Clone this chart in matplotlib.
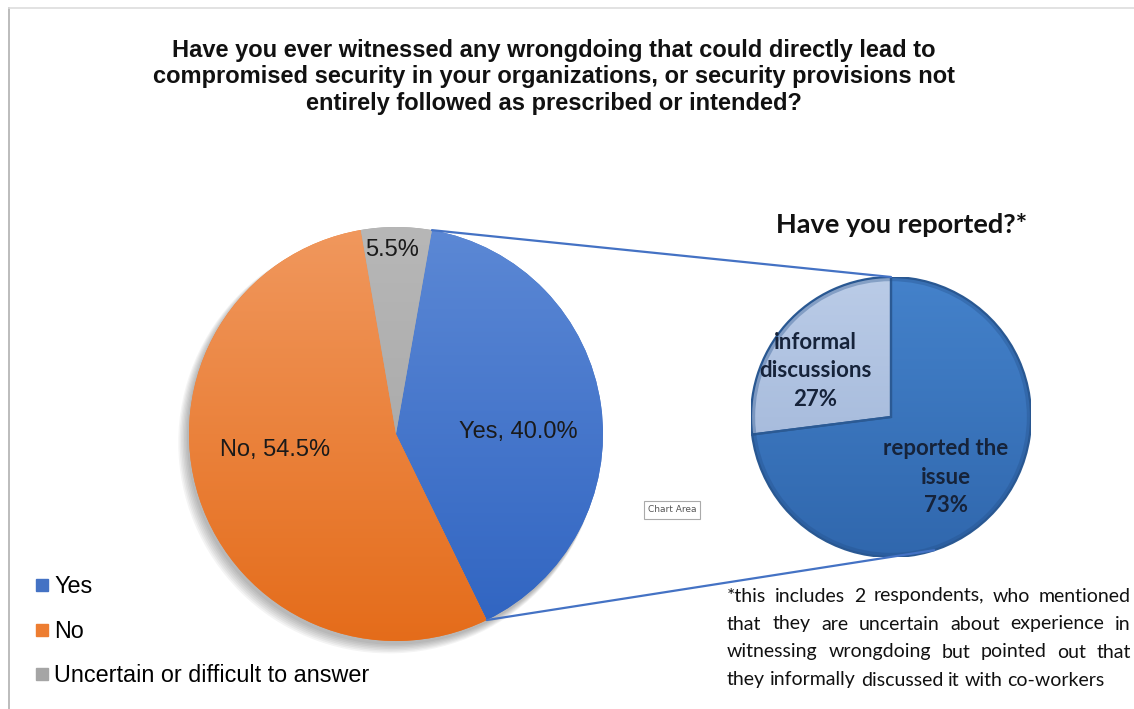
import numpy as np
import matplotlib
matplotlib.use("Agg")
import matplotlib.pyplot as plt
from matplotlib.colors import LinearSegmentedColormap
from matplotlib.lines import Line2D
from matplotlib.patches import Circle, ConnectionPatch, Wedge

# --- data ---
main_labels = ["Yes", "No", "Uncertain or difficult to answer"]
main_values = [40.0, 54.5, 5.5]
main_colors = ["#4472C4", "#ED7D31", "#A5A5A5"]
main_grad = [("#5E8AD6", "#2D62C0"), ("#F19A61", "#E46A17"), ("#B8B8B8", "#A0A0A0")]

sub_labels = ["reported the\nissue", "informal\ndiscussions"]
sub_values = [73, 27]
sub_grad = [("#4583CC", "#2F66AC"), ("#BCCDE8", "#98AFD4")]

title = ("Have you ever witnessed any wrongdoing that could directly lead to\n"
         "compromised security in your organizations, or security provisions not\n"
         "entirely followed as prescribed or intended?")
sub_title = "Have you reported?*"
footnote = [
    "*this includes 2 respondents, who mentioned",
    "that they are uncertain about experience in",
    "witnessing wrongdoing but pointed out that",
    "they informally discussed it with co-workers",
]

W, H = 1134, 709
fig = plt.figure(figsize=(W / 100, H / 100), dpi=100)
fig.patch.set_facecolor("white")


def px_axes(cx, cy, r):
    return fig.add_axes([(cx - r) / W, (H - cy - r) / H, 2 * r / W, 2 * r / H])


def fill_gradient(ax, wedge, c_top, c_bottom, z):
    cmap = LinearSegmentedColormap.from_list("g", [c_bottom, c_top])
    grad = np.linspace(0, 1, 256).reshape(-1, 1)
    im = ax.imshow(grad, extent=[-1.1, 1.1, -1.1, 1.1], origin="lower",
                   cmap=cmap, aspect="auto", zorder=z, interpolation="bilinear")
    im.set_clip_path(wedge)


def on_circle(deg):
    return (np.cos(np.radians(deg)), np.sin(np.radians(deg)))


# outer frame of the chart area
fig.add_artist(Line2D([9 / W, 9 / W], [0, 1 - 8 / H], color="#B0B0B0", lw=1.2))
fig.add_artist(Line2D([9 / W, 1], [1 - 8 / H, 1 - 8 / H], color="#DDDDDD", lw=1.2))

fig.text(554 / W, 1 - 77 / H, title, ha="center", va="center", fontsize=17,
         fontweight="bold", family="Liberation Sans", linespacing=1.18, color="#111111")

# main pie
ax1 = px_axes(396, 434, 207)
for k in range(7):
    ax1.add_patch(Circle((-0.01 - 0.004 * k, -0.018 - 0.004 * k), 1.0 + 0.003 * k,
                         color="#000000", alpha=0.045, lw=0, zorder=0, clip_on=False))
wedges1, _ = ax1.pie(main_values, colors=main_colors, startangle=80,
                     counterclock=False, radius=1.0,
                     wedgeprops=dict(linewidth=0))
for w, (ct, cb) in zip(wedges1, main_grad):
    w.set_zorder(1)
    fill_gradient(ax1, w, ct, cb, 2)
ax1.set_xlim(-1, 1)
ax1.set_ylim(-1, 1)
ax1.axis("off")

main_text_pos = [(0.59, 0.01), (-0.585, -0.075), (-0.02, 0.89)]
for i, (lab, v) in enumerate(zip(main_labels, main_values)):
    txt = f"{v:.1f}%" if i == 2 else f"{lab}, {v:.1f}%"
    x, y = main_text_pos[i]
    ax1.text(x, y, txt, ha="center", va="center", fontsize=17,
             family="Liberation Sans", color="#1A1A1A", zorder=5)

# secondary pie
ax2 = px_axes(891, 417, 140)
wedges2, _ = ax2.pie(sub_values, colors=[g[0] for g in sub_grad], startangle=90,
                     counterclock=False, radius=1.0,
                     wedgeprops=dict(linewidth=0))
for w, (ct, cb) in zip(wedges2, sub_grad):
    w.set_zorder(1)
    fill_gradient(ax2, w, ct, cb, 2)
    ax2.add_patch(Wedge(w.center, w.r, w.theta1, w.theta2,
                        fill=False, ec="#2B5A94", lw=1.6, zorder=3))
ax2.add_patch(Circle((0, 0), 0.985, fill=False, ec="#24508A", lw=3, alpha=0.35, zorder=3))
ax2.set_xlim(-1, 1)
ax2.set_ylim(-1, 1)
ax2.axis("off")

sub_text_pos = [(0.39, -0.43), (-0.54, 0.33)]
for lab, v, (x, y) in zip(sub_labels, sub_values, sub_text_pos):
    ax2.text(x, y, f"{lab}\n{v}%", ha="center", va="center", fontsize=16,
             fontweight="bold", family="Lato", color="#16233A",
             linespacing=1.45, zorder=5)

fig.text(902 / W, 1 - 225 / H, sub_title, ha="center", va="center", fontsize=19.5,
         fontweight="bold", family="Lato", color="#111111")

# connector lines from the "Yes" slice edges to the secondary pie
yes = wedges1[0]
p_top = on_circle(max(yes.theta1, yes.theta2))
p_bot = on_circle(min(yes.theta1, yes.theta2))
q_top = on_circle(90)
q_bot = on_circle(-72)
for p, q in [(p_top, q_top), (p_bot, q_bot)]:
    fig.add_artist(ConnectionPatch(p, q, coordsA=ax1.transData, coordsB=ax2.transData,
                                   color="#4472C4", lw=1.6, zorder=6))

# legend
handles = [Line2D([], [], marker="s", ls="", color=c, markersize=8) for c in main_colors]
fig.legend(handles, main_labels, loc="upper left", bbox_to_anchor=(26 / W, 1 - 566 / H),
           frameon=False, prop=dict(family="Liberation Sans", size=16.8),
           handlelength=0.6, handletextpad=0.2, labelspacing=0.92, borderaxespad=0)

# "Chart Area" tooltip
fig.text(672 / W, 1 - 510 / H, "Chart Area", ha="center", va="center", fontsize=6.5,
         family="DejaVu Sans", color="#555555",
         bbox=dict(boxstyle="square,pad=0.45", fc="white", ec="#AAAAAA", lw=0.8))

# justified footnote
fig.canvas.draw()
renderer = fig.canvas.get_renderer()
x0, x1 = 727, 1131
for i, line in enumerate(footnote):
    y = 1 - (596 + 28 * i) / H
    words = line.split(" ")
    texts = [fig.text(0, y, w, ha="left", va="center", fontsize=14, family="Lato",
                      color="#111111") for w in words]
    widths = [t.get_window_extent(renderer).width for t in texts]
    if i < len(footnote) - 1:
        gap = (x1 - x0 - sum(widths)) / (len(words) - 1)
    else:
        sp = fig.text(0, 0, " ", fontsize=14, family="Lato")
        gap = sp.get_window_extent(renderer).width
        sp.remove()
    x = x0
    for t, wd in zip(texts, widths):
        t.set_x(x / W)
        x += wd + gap

fig.savefig("out.png", dpi=100, facecolor="white")
